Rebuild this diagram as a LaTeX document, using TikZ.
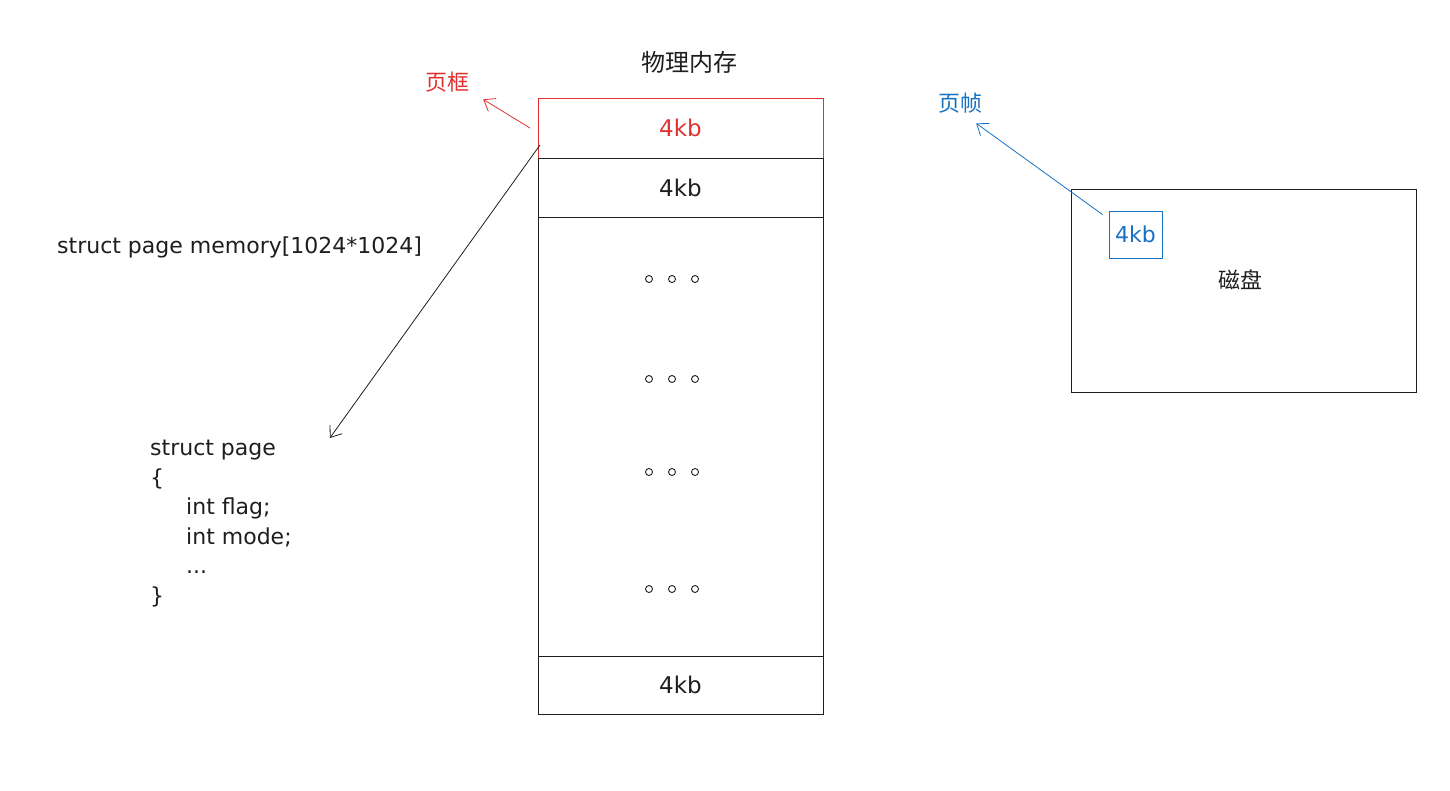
\documentclass[tikz,border=0pt]{standalone}
\usepackage{fontspec}
\setmainfont{DejaVu Sans}
\newfontfamily\cjk{Noto Sans CJK SC}
\usetikzlibrary{arrows.meta,calc}

\definecolor{inkc}{HTML}{1E1E1E}
\definecolor{pfred}{HTML}{E03131}
\definecolor{pfblue}{HTML}{1971C2}

\tikzset{
    cell/.style={draw=inkc, line width=1pt, inner sep=0pt, outer sep=0pt,
        minimum width=285pt, font=\fontsize{23}{26}\selectfont, text=inkc},
    lbl/.style={inner sep=0pt, font=\cjk\fontsize{22}{26}\selectfont},
    barb/.style={-{Straight Barb[length=10pt,width=15pt]}, line width=0.8pt},
}

\begin{document}
\begin{tikzpicture}[x=1pt, y=-1pt]

    \useasboundingbox (0,0) rectangle (1450,790);

    \pgfmathsetmacro{\r}{3.5}

    % 物理内存
    \node[lbl, text=inkc, font=\cjk\fontsize{24}{28}\selectfont] (title) at (689,62) {物理内存};
    \node[cell, draw=pfred, text=pfred, minimum height=60pt] (f1) at (680.5,128) {4kb};
    \node[cell, minimum height=59pt] (f2) at (680.5,187.5) {4kb};
    \node[cell, minimum height=58pt] (f3) at (680.5,685) {4kb};
    \draw[inkc, line width=1pt] (f2.south west) -- (f3.north west)
        (f2.south east) -- (f3.north east);

    % 省略号
    \foreach \y in {279,379,472,589} {
        \foreach \x in {-23,0,23} {
            \draw[inkc, line width=0.9pt] (\x+672,\y) circle (\r);
        }
    }

    % 页框
    \node[lbl, text=pfred] (yk) at (447,82) {页框};
    \draw[barb, pfred] ($(f1.west)+(-8,0)$) -- ($(yk.south east)+(14,7)$);

    % struct page
    \node[anchor=west, inner sep=0pt, text=inkc, font=\fontsize{22}{26}\selectfont]
        (arr) at (57,247) {struct page memory[1024*1024]};
    \node[anchor=north west, inner sep=0pt, text=inkc, align=left,
        font=\fontsize{22}{29.5}\selectfont] (code) at (150,440)
        {struct page\\
         \{\\
         \hspace*{36pt}int flag;\\
         \hspace*{36pt}int mode;\\
         \hspace*{36pt}...\\
         \}};
    \coordinate (tip) at ($(code.north east)+(38,-2)$);
    \draw[barb, inkc] ($(f1.south west)+(2,-13)$) -- (tip);

    % 磁盘
    \node[draw=inkc, line width=1pt, minimum width=345pt, minimum height=203pt,
        inner sep=0pt] (disk) at (1243.5,290.5) {};
    \node[lbl, text=inkc] (dname) at (1240,280) {磁盘};
    \node[draw=pfblue, line width=0.8pt, minimum width=53pt, minimum height=47pt,
        inner sep=0pt, text=pfblue, font=\fontsize{22}{26}\selectfont]
        (pg) at (1135.5,234.5) {4kb};

    % 页帧
    \node[lbl, text=pfblue] (yz) at (960,103) {页帧};
    \draw[barb, pfblue] ($(pg.north west)+(-6,4)$) -- ($(yz.south east)+(-6,10)$);

\end{tikzpicture}
\end{document}
